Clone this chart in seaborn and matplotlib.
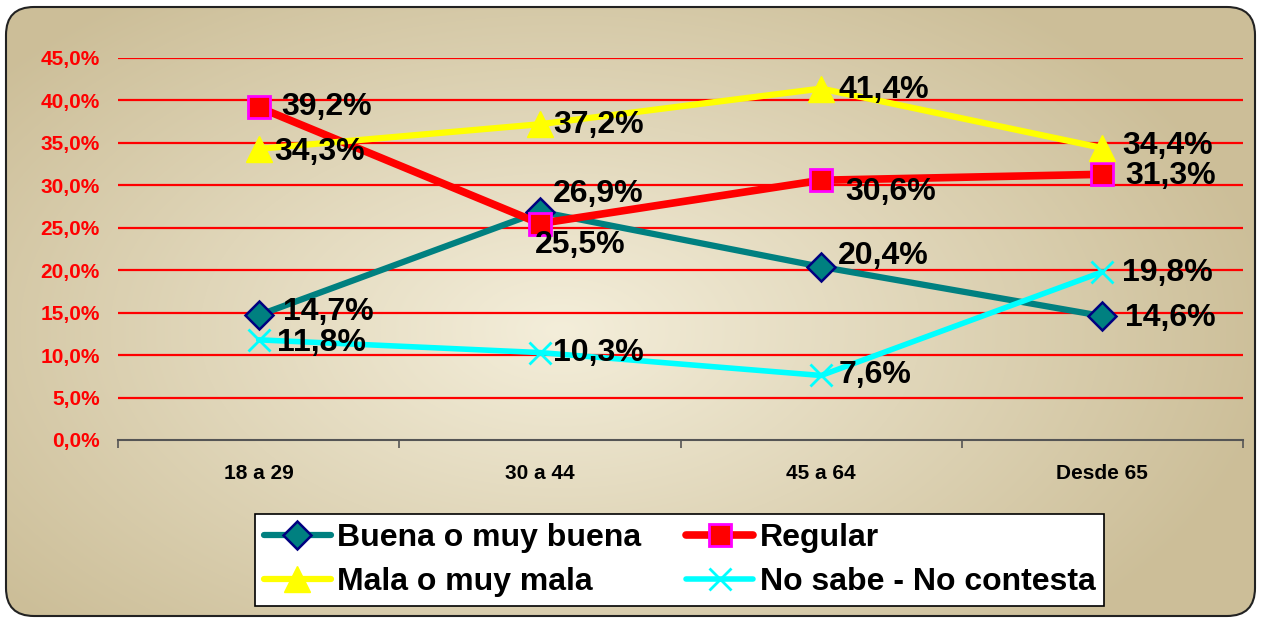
import numpy as np
import pandas as pd
import matplotlib
matplotlib.use("Agg")
import matplotlib.pyplot as plt
import seaborn as sns
from matplotlib.patches import FancyBboxPatch
from matplotlib.ticker import FuncFormatter

# --- Data ---
categories = ["18 a 29", "30 a 44", "45 a 64", "Desde 65"]
buena = [14.7, 26.9, 20.4, 14.6]
regular = [39.2, 25.5, 30.6, 31.3]
mala = [34.3, 37.2, 41.4, 34.4]
no_sabe = [11.8, 10.3, 7.6, 19.8]
series_names = ["Buena o muy buena", "Regular", "Mala o muy mala", "No sabe - No contesta"]

# --- Styles ---
styles = {
    "Buena o muy buena": dict(color="#008080", marker="D", markersize=14, markeredgecolor="#000080",
                              markeredgewidth=1.8, linewidth=4.5),
    "Regular": dict(color="#FF0000", marker="s", markersize=16, markeredgecolor="#FF00FF",
                    markeredgewidth=2, linewidth=5.5),
    "Mala o muy mala": dict(color="#FFFF00", marker="^", markersize=19, markeredgecolor="#FFFF00",
                            markeredgewidth=1, linewidth=4.5),
    "No sabe - No contesta": dict(color="#00FFFF", marker="x", markersize=16, markeredgecolor="#00FFFF",
                                  markeredgewidth=2, linewidth=4),
}
# label offsets in pixels (dx, dy)
offsets = {
    "Buena o muy buena": [(24, 3), (13, 18), (17, 11), (23, -2)],
    "Regular": [(23, 0), (-5, -21), (24, -12), (23, -2)],
    "Mala o muy mala": [(16, -3), (13, -1), (17, -1), (20, 2)],
    "No sabe - No contesta": [(18, -3), (13, 0), (17, 0), (20, -1)],
}

df = pd.DataFrame({
    "Edad": categories * 4,
    "Valor": buena + regular + mala + no_sabe,
    "Serie": [s for s in series_names for _ in categories],
})

sns.set_style("white")
plt.rcParams["font.family"] = ["Liberation Sans", "DejaVu Sans"]
plt.rcParams["font.weight"] = "bold"
plt.rcParams["text.color"] = "black"

W, H = 1262, 619
fig = plt.figure(figsize=(W / 100, H / 100), dpi=100)
fig.patch.set_facecolor("white")

# --- Background: rounded panel with radial gradient ---
bg = fig.add_axes([0, 0, 1, 1], zorder=-5)
bg.set_xlim(0, W)
bg.set_ylim(H, 0)
bg.axis("off")
yy, xx = np.mgrid[0:H, 0:W]
r = np.sqrt(((xx - 560) / 720) ** 2 + ((yy - 330) / 420) ** 2)
r = np.clip(r, 0, 1)
c_in = np.array([244, 238, 218]) / 255
c_out = np.array([204, 190, 152]) / 255
img = c_in[None, None, :] * (1 - r[..., None]) + c_out[None, None, :] * r[..., None]
im = bg.imshow(img, extent=(0, W, H, 0), aspect="auto")
panel = FancyBboxPatch((6, 7), W - 7 - 6, H - 3 - 7, boxstyle="round,pad=0,rounding_size=28",
                       facecolor="none", edgecolor="#222222", linewidth=1.5)
bg.add_patch(panel)
im.set_clip_path(panel)

# --- Main axes ---
ax = fig.add_axes([118 / W, 1 - 440 / H, (1243 - 118) / W, (440 - 58) / H])
ax.set_facecolor("none")

lines = {}
for name in series_names:
    sub = df[df["Serie"] == name]
    sns.lineplot(data=sub, x="Edad", y="Valor", ax=ax, legend=False, zorder=3, **styles[name])
    lines[name] = ax.lines[-1]
    for i, (cat, val) in enumerate(zip(sub["Edad"], sub["Valor"])):
        dx, dy = offsets[name][i]
        ax.annotate(f"{val:.1f}%".replace(".", ","), (i, val), xytext=(dx, dy),
                    textcoords="offset pixels", ha="left", va="center",
                    fontsize=23, fontweight="bold", color="black", zorder=5)

ax.set_xlim(-0.5, 3.5)
ax.set_ylim(0, 45)
ax.set_yticks(np.arange(0, 45.1, 5))
ax.yaxis.set_major_formatter(FuncFormatter(lambda v, p: f"{v:.1f}%".replace(".", ",")))
for v in np.arange(5, 45.1, 5):
    ax.axhline(v, color="#FF0000", linewidth=1.6, zorder=1)
ax.tick_params(axis="y", length=0, pad=13, labelsize=15, labelcolor="#FF0000")
for t in ax.get_yticklabels():
    t.set_fontweight("bold")

ax.set_xticks(range(len(categories)))
ax.set_xticklabels(categories)
ax.set_xticks(np.arange(-0.5, 3.6, 1), minor=True)
ax.tick_params(axis="x", which="major", length=0, pad=17, labelsize=15, labelcolor="black")
ax.tick_params(axis="x", which="minor", length=6, width=1.2, color="#555555", direction="out")
ax.xaxis.set_tick_params(which="minor", bottom=True)
for t in ax.get_xticklabels():
    t.set_fontweight("bold")
ax.set_xlabel("")
ax.set_ylabel("")
for s in ["top", "right", "left"]:
    ax.spines[s].set_visible(False)
ax.spines["bottom"].set_color("#555555")
ax.spines["bottom"].set_linewidth(1.5)

# --- Legend (row-major order) ---
order = ["Buena o muy buena", "Mala o muy mala", "Regular", "No sabe - No contesta"]
leg = fig.legend([lines[n] for n in order], order, ncol=2, loc="center",
                 bbox_to_anchor=(679.5 / W, 1 - 560 / H), frameon=True, fancybox=False,
                 prop=dict(family="Liberation Sans", weight="bold", size=23),
                 handlelength=2.1, handletextpad=0.2, columnspacing=1.4, labelspacing=0.45,
                 borderpad=0.28, borderaxespad=0)
for t in leg.get_texts():
    t.set_color("black")
leg.get_frame().set_edgecolor("black")
leg.get_frame().set_linewidth(1.2)
leg.get_frame().set_facecolor("white")
leg.get_frame().set_alpha(1)

fig.savefig("out.png", dpi=100)
